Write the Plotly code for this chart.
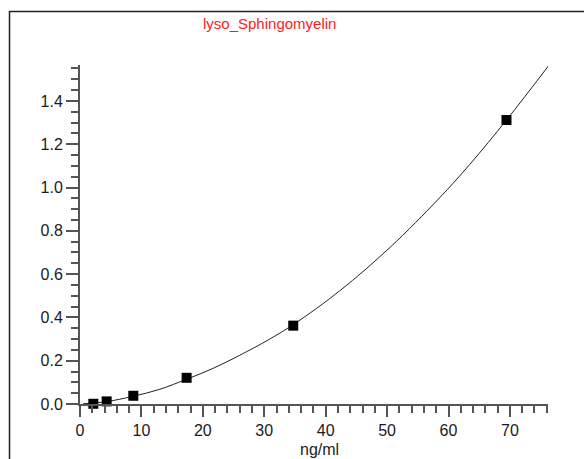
import plotly.graph_objects as go

# Calibration standards (concentration, response)
conc = [2.17, 4.34, 8.68, 17.36, 34.72, 69.44]
resp = [0.001, 0.012, 0.038, 0.121, 0.362, 1.312]

# Fitted curve
curve_x = [0.5, 4.3, 8.7, 13.0, 17.4, 21.7, 26.0, 30.9, 35.0, 42.3, 50.5, 58.5, 63.5, 69.5, 76.6]
curve_y = [0.001, 0.011, 0.036, 0.068, 0.115, 0.165, 0.225, 0.300, 0.372, 0.523, 0.724, 0.951, 1.108, 1.314, 1.574]

x_ticks = [0, 10, 20, 30, 40, 50, 60, 70]
y_ticks = [0.0, 0.2, 0.4, 0.6, 0.8, 1.0, 1.2, 1.4]

title_text = "lyso_Sphingomyelin"
x_label = "ng/ml"

W, H = 584, 459
L, R, T, B = 80, 548, 65, 404  # plot area pixel box

fig = go.Figure()
fig.add_trace(go.Scatter(x=curve_x, y=curve_y, mode="lines", line=dict(color="#222222", width=1, shape="spline"),
                         hoverinfo="skip"))
fig.add_trace(go.Scatter(x=conc, y=resp, mode="markers",
                         marker=dict(symbol="square", size=10, color="black"), cliponaxis=False))

axis_common = dict(showline=True, linecolor="#555555", linewidth=2, showgrid=False, zeroline=False,
                   ticks="outside", tickcolor="#555555", tickwidth=1.5,
                   tickfont=dict(family="Liberation Sans, Arial, sans-serif", size=16, color="#1a1a1a"))

fig.update_layout(
    width=W, height=H,
    margin=dict(l=L, r=W - R, t=T, b=H - B, pad=0),
    paper_bgcolor="white", plot_bgcolor="white",
    showlegend=False,
    font=dict(family="Liberation Sans, Arial, sans-serif", color="#222222"),
    xaxis=dict(range=[0, 76.2], tickvals=x_ticks, ticklen=11,
               minor=dict(dtick=2, ticklen=7, ticks="outside", tickcolor="#555555", tickwidth=1.5),
               **axis_common),
    yaxis=dict(range=[0, 1.566], tickvals=y_ticks, tickformat=".1f", ticklen=12,
               minor=dict(dtick=0.05, ticklen=7, ticks="outside", tickcolor="#555555", tickwidth=1.5),
               **axis_common),
)

pw, ph = R - L, B - T
def px_x(p):
    return (p - L) / pw
def px_y(p):
    return (B - p) / ph

# outer frame (left and top edges visible, right/bottom off-canvas)
fig.add_shape(type="rect", xref="paper", yref="paper",
              x0=px_x(9.5), x1=px_x(W + 20), y0=px_y(H + 20), y1=px_y(11.5),
              line=dict(color="#222222", width=1.5), fillcolor="rgba(0,0,0,0)", layer="below")

fig.add_annotation(text=title_text, xref="paper", yref="paper", x=px_x(269.5), y=px_y(24),
                   xanchor="center", yanchor="middle", showarrow=False,
                   font=dict(family="Liberation Sans, Arial, sans-serif", size=15, color="#ff1a1a"))
fig.add_annotation(text=x_label, xref="paper", yref="paper", x=px_x(319), y=px_y(449),
                   xanchor="center", yanchor="middle", showarrow=False,
                   font=dict(family="Liberation Sans, Arial, sans-serif", size=16, color="#222222"))

fig.write_html("out.html")
